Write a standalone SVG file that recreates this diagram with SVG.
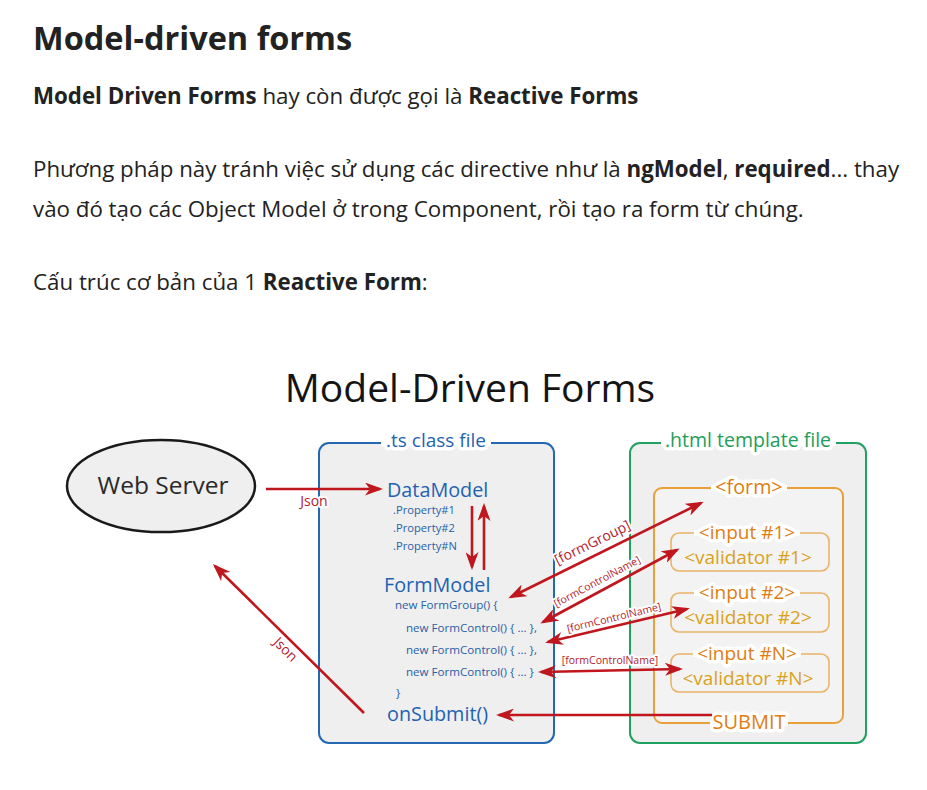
<svg xmlns="http://www.w3.org/2000/svg" width="927" height="790" viewBox="0 0 927 790">
<style>
.page{font-family:"Open Sans","Noto Sans",sans-serif;fill:#222;font-size:22.3px}
.b{font-weight:700}
.dg{font-family:"Open Sans","Noto Sans",sans-serif}
.blue{fill:#1f62b2}
.sblue{fill:#2a5ea6}
.arr{stroke:#c0161e;stroke-width:2.6;fill:none}
.lbl{font-family:"Open Sans","Noto Sans",sans-serif;fill:#b5202c;paint-order:stroke;stroke:#fff;stroke-width:4;stroke-linejoin:round}
.halo{paint-order:stroke;stroke:#fff;stroke-width:7;stroke-linejoin:round}
.gap{fill:#fff}
.orange{fill:#e07d12}
.gold{fill:#d9a21c}
.inbox{fill:none;stroke:#e9b468;stroke-width:1.6}
</style>
<defs>
<marker id="ah" viewBox="0 0 18 13" refX="15" refY="6.5" markerWidth="18" markerHeight="13" markerUnits="userSpaceOnUse" orient="auto-start-reverse">
<path d="M0,0 L18,6.5 L0,13 L5,6.5 z" fill="#c0161e"/>
</marker>
</defs>
<rect width="927" height="790" fill="#fff"/>

<g id="page-text">
<text class="page b" x="33" y="50" style="font-size:32.5px">Model-driven forms</text>
<text class="page" x="33" y="104"><tspan class="b">Model Driven Forms</tspan> hay còn được gọi là <tspan class="b">Reactive Forms</tspan></text>
<text class="page" x="33" y="177">Phương pháp này tránh việc sử dụng các directive như là <tspan class="b">ngModel</tspan>, <tspan class="b">required</tspan>... thay</text>
<text class="page" x="33" y="217">vào đó tạo các Object Model ở trong Component, rồi tạo ra form từ chúng.</text>
<text class="page" x="33" y="290">Cấu trúc cơ bản của 1 <tspan class="b">Reactive Form</tspan>:</text>
</g>

<text class="dg" x="470" y="402" font-size="39" text-anchor="middle" fill="#141414">Model-Driven Forms</text>

<g id="web-server">
<ellipse cx="161" cy="486" rx="94" ry="46" fill="#efefef" stroke="#1a1a1a" stroke-width="2.5"/>
<text class="dg" x="163" y="494" font-size="24.5" text-anchor="middle" fill="#2a2a2a">Web Server</text>
</g>

<g id="ts-file">
<rect x="319" y="443" width="235" height="300" rx="10" fill="#efefef" stroke="#2468b4" stroke-width="2"/>
<rect class="gap" x="381" y="440" width="110" height="6"/>
<text class="dg blue halo" x="436" y="447" font-size="19" text-anchor="middle">.ts class file</text>
</g>
<g id="data-model">
<text class="dg blue" x="387" y="497" font-size="19.8">DataModel</text>
<text class="dg sblue" x="393" y="514" font-size="11.2">.Property#1</text>
<text class="dg sblue" x="393" y="532" font-size="11.2">.Property#2</text>
<text class="dg sblue" x="393" y="550" font-size="11.2">.Property#N</text>
</g>
<g id="form-model">
<text class="dg blue" x="384" y="592" font-size="19.8">FormModel</text>
<text class="dg sblue" x="395" y="609" font-size="11.6">new FormGroup() {</text>
<text class="dg sblue" x="406" y="632" font-size="11.6">new FormControl() { ... },</text>
<text class="dg sblue" x="406" y="654" font-size="11.6">new FormControl() { ... },</text>
<text class="dg sblue" x="406" y="676" font-size="11.6">new FormControl() { ... }</text>
<text class="dg sblue" x="396" y="697" font-size="11.6">}</text>
</g>
<g id="on-submit">
<text class="dg blue" x="387" y="721" font-size="19.8">onSubmit()</text>
</g>

<g id="html-file">
<rect x="630" y="443" width="236" height="300" rx="10" fill="#efefef" stroke="#22a060" stroke-width="2"/>
<rect class="gap" x="661" y="440" width="175" height="6"/>
<text class="dg halo" x="748" y="447" font-size="19.5" text-anchor="middle" fill="#1e9e5a">.html template file</text>
</g>
<g id="form">
<rect x="654" y="488" width="189" height="235" rx="8" fill="#f3f3f3" stroke="#e8a038" stroke-width="2"/>
<rect class="gap" x="711" y="485" width="76" height="6"/>
<text class="dg orange halo" x="749" y="494" font-size="19.7" text-anchor="middle">&lt;form&gt;</text>
</g>
<g id="input-1">
<rect class="inbox" x="671" y="533" width="158" height="38" rx="8"/>
<rect class="gap" x="694" y="530" width="106" height="6"/>
<text class="dg orange halo" x="747" y="539" font-size="19" text-anchor="middle">&lt;input #1&gt;</text>
<text class="dg gold" x="748" y="564" font-size="19" text-anchor="middle">&lt;validator #1&gt;</text>
</g>
<g id="input-2">
<rect class="inbox" x="671" y="593" width="158" height="39" rx="8"/>
<rect class="gap" x="694" y="590" width="106" height="6"/>
<text class="dg orange halo" x="747" y="599" font-size="19" text-anchor="middle">&lt;input #2&gt;</text>
<text class="dg gold" x="748" y="624" font-size="19" text-anchor="middle">&lt;validator #2&gt;</text>
</g>
<g id="input-n">
<rect class="inbox" x="671" y="654" width="158" height="38" rx="8"/>
<rect class="gap" x="693" y="651" width="108" height="6"/>
<text class="dg orange halo" x="747" y="660" font-size="19" text-anchor="middle">&lt;input #N&gt;</text>
<text class="dg gold" x="748" y="685" font-size="19" text-anchor="middle">&lt;validator #N&gt;</text>
</g>
<g id="submit">
<rect class="gap" x="710" y="720" width="78" height="6"/>
<text class="dg orange halo" x="749" y="729" font-size="20" text-anchor="middle">SUBMIT</text>
</g>

<g id="connectors">
<line class="arr" x1="266" y1="489" x2="380" y2="489" marker-end="url(#ah)"/>
<text class="lbl" x="314" y="506" font-size="14" text-anchor="middle">Json</text>
<line class="arr" x1="364" y1="713" x2="215" y2="566" marker-end="url(#ah)"/>
<text class="lbl" font-size="14" text-anchor="middle" transform="translate(285,650) rotate(44.6) translate(0,4)">Json</text>
<line class="arr" x1="472" y1="506" x2="472" y2="567" marker-end="url(#ah)"/>
<line class="arr" x1="484" y1="570" x2="484" y2="506" marker-end="url(#ah)"/>
<line class="arr" x1="511" y1="597" x2="701" y2="503" marker-start="url(#ah)" marker-end="url(#ah)"/>
<text class="lbl" font-size="14" text-anchor="middle" transform="translate(598,554) rotate(-26.3) translate(0,-8)">[formGroup]</text>
<line class="arr" x1="543" y1="622" x2="677" y2="550" marker-start="url(#ah)" marker-end="url(#ah)"/>
<text class="lbl" font-size="10.5" text-anchor="middle" transform="translate(602,591) rotate(-28.2) translate(0,-7)">[formControlName]</text>
<line class="arr" x1="548" y1="642" x2="687" y2="609" marker-start="url(#ah)" marker-end="url(#ah)"/>
<text class="lbl" font-size="10.5" text-anchor="middle" transform="translate(616,626) rotate(-13.6) translate(0,-5)">[formControlName]</text>
<line class="arr" x1="541" y1="672" x2="680" y2="669" marker-start="url(#ah)" marker-end="url(#ah)"/>
<text class="lbl" x="610" y="664" font-size="10.5" text-anchor="middle">[formControlName]</text>
<line class="arr" x1="712" y1="715" x2="499" y2="715" marker-end="url(#ah)"/>
</g>
</svg>
